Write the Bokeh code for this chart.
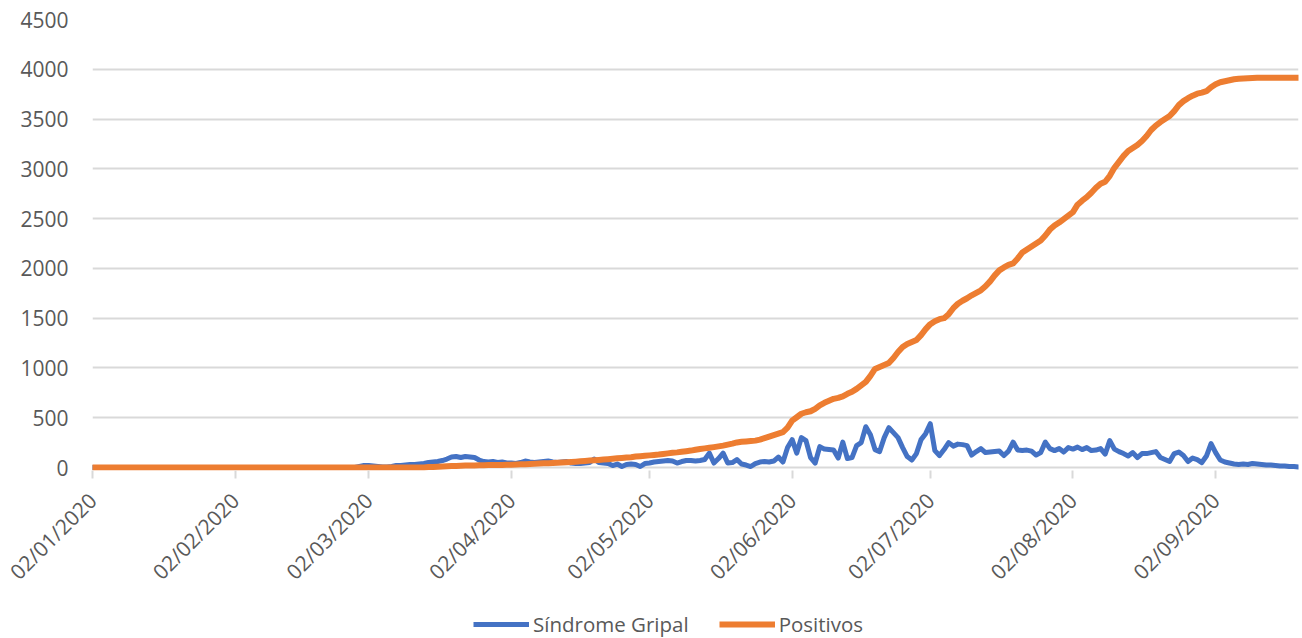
import math
from datetime import datetime
import pandas as pd
from bokeh.plotting import figure
from bokeh.layouts import column
from bokeh.models import (Range1d, FixedTicker, DatetimeTickFormatter, Legend, LegendItem)
from bokeh.embed import file_html
from bokeh.resources import INLINE

# ---------------- data ----------------
start_date = "2020-01-02"

sindrome_gripal = [
    0, 0, 0, 0, 0, 0, 0, 0, 0, 0, 0, 0, 0, 0, 0, 0, 0, 0, 0, 0,
    0, 0, 0, 0, 0, 0, 0, 0, 0, 0, 0, 0, 0, 0, 0, 0, 0, 0, 0, 0,
    0, 0, 0, 0, 0, 0, 0, 0, 0, 0, 0, 0, 0, 0, 0, 0, 0, 0, 10, 20,
    20, 15, 10, 5, 5, 10, 20, 20, 25, 30, 30, 35, 40, 50, 55, 60, 70, 85, 105, 110,
    100, 110, 105, 100, 75, 60, 55, 60, 50, 55, 45, 45, 40, 50, 65, 55, 50, 55, 60, 65,
    55, 50, 55, 60, 45, 40, 40, 45, 50, 85, 50, 45, 40, 20, 35, 10, 30, 35, 30, 10,
    40, 45, 55, 60, 65, 70, 65, 45, 60, 70, 70, 65, 70, 80, 145, 45, 90, 145, 45, 50,
    80, 35, 25, 10, 40, 55, 60, 55, 65, 105, 55, 200, 280, 145, 300, 270, 100, 45, 210, 185,
    180, 175, 95, 255, 90, 100, 220, 250, 410, 330, 180, 160, 300, 400, 350, 300, 200, 110, 75, 140,
    280, 340, 440, 170, 120, 180, 250, 215, 235, 230, 220, 125, 160, 190, 150, 155, 160, 165, 120, 165,
    255, 175, 170, 175, 165, 125, 150, 255, 190, 170, 190, 155, 200, 185, 205, 180, 200, 170, 175, 190,
    135, 270, 185, 160, 140, 115, 150, 100, 140, 140, 150, 160, 100, 80, 60, 140, 155, 120, 60, 95,
    80, 50, 115, 240, 150, 75, 55, 45, 35, 30, 35, 30, 40, 35, 30, 25, 25, 20, 15, 15,
    10, 10, 5,
]

positivos = [
    0, 0, 0, 0, 0, 0, 0, 0, 0, 0, 0, 0, 0, 0, 0, 0, 0, 0, 0, 0,
    0, 0, 0, 0, 0, 0, 0, 0, 0, 0, 0, 0, 0, 0, 0, 0, 0, 0, 0, 0,
    0, 0, 0, 0, 0, 0, 0, 0, 0, 0, 0, 0, 0, 0, 0, 0, 0, 0, 0, 0,
    0, 0, 0, 0, 0, 0, 0, 0, 0, 0, 0, 0, 0, 5, 5, 8, 10, 12, 14, 16,
    18, 20, 20, 21, 22, 23, 24, 25, 25, 26, 27, 28, 30, 32, 34, 36, 38, 40, 42, 44,
    46, 48, 50, 52, 55, 58, 62, 66, 70, 73, 76, 80, 84, 88, 92, 96, 100, 104, 110, 114,
    118, 122, 126, 130, 136, 142, 148, 152, 158, 164, 170, 178, 186, 192, 198, 205, 212, 220, 230, 240,
    252, 258, 262, 266, 270, 280, 295, 310, 325, 340, 355, 400, 470, 505, 540, 555, 565, 590, 625, 650,
    670, 690, 700, 715, 740, 760, 790, 825, 860, 920, 990, 1010, 1030, 1050, 1100, 1160, 1210, 1240, 1260, 1280,
    1330, 1390, 1440, 1470, 1490, 1500, 1540, 1600, 1645, 1675, 1700, 1730, 1755, 1780, 1820, 1870, 1930, 1980, 2010, 2035,
    2050, 2100, 2160, 2190, 2220, 2250, 2280, 2330, 2390, 2430, 2460, 2495, 2530, 2565, 2640, 2680, 2715, 2760, 2810, 2850,
    2870, 2930, 3010, 3070, 3130, 3180, 3210, 3240, 3280, 3330, 3390, 3435, 3470, 3500, 3530, 3580, 3640, 3680, 3710, 3735,
    3755, 3765, 3780, 3820, 3850, 3870, 3880, 3890, 3900, 3905, 3908, 3910, 3912, 3915, 3915, 3915, 3915, 3915, 3915, 3915,
    3915, 3915, 3915,
]

x_tick_labels = ["02/01/2020", "02/02/2020", "02/03/2020", "02/04/2020", "02/05/2020",
                 "02/06/2020", "02/07/2020", "02/08/2020", "02/09/2020"]
y_ticks = [0, 500, 1000, 1500, 2000, 2500, 3000, 3500, 4000, 4500]

series_names = ["Síndrome Gripal", "Positivos"]
series_colors = ["#4472C4", "#ED7D31"]
series_widths = [5, 6]

# ---------------- build ----------------
dates = pd.date_range(start=start_date, periods=len(positivos), freq="D")
epoch = pd.Timestamp("1970-01-01")

def to_ms(ts):
    return float((pd.Timestamp(ts) - epoch) / pd.Timedelta(milliseconds=1))

tick_ms = [to_ms(datetime.strptime(t, "%d/%m/%Y")) for t in x_tick_labels]

FONT = "Open Sans"
TXT = "#595959"
GRID = "#D9D9D9"

p = figure(
    frame_width=1206, frame_height=451,
    min_border_left=92, min_border_right=2, min_border_top=19, min_border_bottom=134,
    x_axis_type="datetime",
    x_range=Range1d(to_ms(dates[0]), to_ms(dates[-1])),
    y_range=Range1d(-30, 4500),
    output_backend="svg", toolbar_location=None,
)
p.outline_line_color = None
p.background_fill_color = "white"
p.border_fill_color = "white"

# x axis
p.xaxis.ticker = FixedTicker(ticks=tick_ms)
fmt = "%d/%m/%Y"
p.xaxis.formatter = DatetimeTickFormatter(
    microseconds=fmt, milliseconds=fmt, seconds=fmt, minsec=fmt, minutes=fmt,
    hourmin=fmt, hours=fmt, days=fmt, months=fmt, years=fmt)
p.xaxis.major_label_orientation = math.pi / 4
p.xaxis.axis_line_color = None
p.xaxis.major_tick_line_color = GRID
p.xaxis.major_tick_line_width = 2
p.xaxis.major_tick_in = 0
p.xaxis.major_tick_out = 8
p.xaxis.minor_tick_line_color = None
p.xaxis.major_label_standoff = 18
p.xaxis.major_label_text_font = FONT
p.xaxis.major_label_text_font_size = "21px"
p.xaxis.major_label_text_color = TXT
p.xgrid.grid_line_color = None

# y axis
p.yaxis.ticker = FixedTicker(ticks=y_ticks)
p.yaxis.axis_line_color = None
p.yaxis.major_tick_line_color = None
p.yaxis.minor_tick_line_color = None
p.yaxis.major_label_standoff = 18
p.yaxis.major_label_text_font = FONT
p.yaxis.major_label_text_font_size = "21px"
p.yaxis.major_label_text_color = TXT
p.ygrid.ticker = FixedTicker(ticks=y_ticks)
p.ygrid.grid_line_color = GRID
p.ygrid.grid_line_width = 2

p.line(dates, sindrome_gripal, line_color=series_colors[0], line_width=series_widths[0],
       line_join="round", line_cap="round")
p.line(dates, positivos, line_color=series_colors[1], line_width=series_widths[1],
       line_join="round", line_cap="round")

# ---------------- legend strip (below the chart) ----------------
leg = figure(
    frame_width=1300, frame_height=34,
    min_border_left=0, min_border_right=0, min_border_top=0, min_border_bottom=0,
    x_range=Range1d(0, 1), y_range=Range1d(0, 1),
    x_axis_location=None, y_axis_location=None,
    output_backend="svg", toolbar_location=None,
)
leg.outline_line_color = None
leg.grid.grid_line_color = None
# same series, far outside this strip's ranges: only their styles feed the legend
lb = leg.line(dates, sindrome_gripal, line_color=series_colors[0], line_width=series_widths[0])
lo = leg.line(dates, positivos, line_color=series_colors[1], line_width=series_widths[1])

legend = Legend(
    items=[LegendItem(label=series_names[0], renderers=[lb]),
           LegendItem(label=series_names[1], renderers=[lo])],
    orientation="horizontal", location=(473, 0),
    glyph_width=56, glyph_height=20, label_standoff=4, spacing=30,
    padding=0, margin=0, border_line_color=None, background_fill_alpha=0,
    label_text_font=FONT, label_text_font_size="20.5px", label_text_color=TXT,
    label_height=20,
)
leg.add_layout(legend, "center")

layout = column(p, leg, spacing=0)
open("out.html", "w").write(file_html(layout, INLINE))
